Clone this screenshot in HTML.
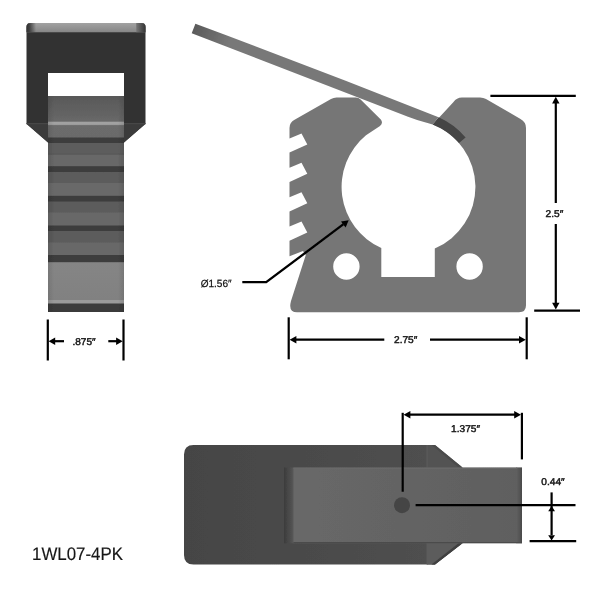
<!DOCTYPE html>
<html>
<head>
<meta charset="utf-8">
<title>1WL07-4PK</title>
<style>
html,body{margin:0;padding:0;background:#fff;}
body{width:600px;height:600px;overflow:hidden;font-family:"Liberation Sans",sans-serif;}
svg{display:block;}
text{text-rendering:geometricPrecision;font-family:"Liberation Sans",sans-serif;fill:#151515;stroke:#151515;stroke-width:0.25px;}
text.b{stroke-width:0.45px;}
</style>
</head>
<body>
<svg width="600" height="600" viewBox="0 0 600 600">
<defs>
  <linearGradient id="strapG" x1="0" y1="0" x2="1" y2="0">
    <stop offset="0" stop-color="#000" stop-opacity="0.10"/>
    <stop offset="0.08" stop-color="#000" stop-opacity="0"/>
    <stop offset="0.92" stop-color="#000" stop-opacity="0"/>
    <stop offset="1" stop-color="#000" stop-opacity="0.10"/>
  </linearGradient>
  <linearGradient id="recessG" x1="0" y1="0" x2="1" y2="0">
    <stop offset="0" stop-color="#3c3c3c"/>
    <stop offset="1" stop-color="#575757"/>
  </linearGradient>
  <linearGradient id="bodyG" x1="0" y1="0" x2="1" y2="0">
    <stop offset="0" stop-color="#454545"/>
    <stop offset="1" stop-color="#4f4f4f"/>
  </linearGradient>
  <linearGradient id="endG" x1="0" y1="0" x2="1" y2="0">
    <stop offset="0" stop-color="#616161"/>
    <stop offset="0.5" stop-color="#565656"/>
    <stop offset="1" stop-color="#4b4b4b"/>
  </linearGradient>
  <filter id="soft" x="0" y="0" width="600" height="600" filterUnits="userSpaceOnUse"><feGaussianBlur stdDeviation="0.55"/></filter>
  <linearGradient id="strap3G" x1="0" y1="0" x2="1" y2="0">
    <stop offset="0" stop-color="#686868"/>
    <stop offset="1" stop-color="#5f5f5f"/>
  </linearGradient>
  <linearGradient id="diagG" gradientUnits="userSpaceOnUse" x1="193" y1="28" x2="230" y2="42">
    <stop offset="0" stop-color="#5a5a5a"/>
    <stop offset="1" stop-color="#787878"/>
  </linearGradient>
  <linearGradient id="tieG" gradientUnits="userSpaceOnUse" x1="0" y1="96" x2="0" y2="312">
    <stop offset="0.00000" stop-color="#585858"/>
    <stop offset="0.11667" stop-color="#686868"/>
    <stop offset="0.12130" stop-color="#a2a2a2"/>
    <stop offset="0.13148" stop-color="#a0a0a0"/>
    <stop offset="0.13704" stop-color="#6c6c6c"/>
    <stop offset="0.18981" stop-color="#6b6b6b"/>
    <stop offset="0.19444" stop-color="#3c3c3c"/>
    <stop offset="0.21528" stop-color="#3c3c3c"/>
    <stop offset="0.21991" stop-color="#5d5d5d"/>
    <stop offset="0.26528" stop-color="#5d5d5d"/>
    <stop offset="0.26898" stop-color="#525252"/>
    <stop offset="0.27315" stop-color="#676767"/>
    <stop offset="0.32269" stop-color="#676767"/>
    <stop offset="0.32731" stop-color="#3c3c3c"/>
    <stop offset="0.34954" stop-color="#3c3c3c"/>
    <stop offset="0.35417" stop-color="#5b5b5b"/>
    <stop offset="0.40046" stop-color="#5b5b5b"/>
    <stop offset="0.40509" stop-color="#696969"/>
    <stop offset="0.45972" stop-color="#696969"/>
    <stop offset="0.46435" stop-color="#3c3c3c"/>
    <stop offset="0.48611" stop-color="#3c3c3c"/>
    <stop offset="0.49074" stop-color="#5b5b5b"/>
    <stop offset="0.53704" stop-color="#5b5b5b"/>
    <stop offset="0.54167" stop-color="#686868"/>
    <stop offset="0.59722" stop-color="#686868"/>
    <stop offset="0.60185" stop-color="#3c3c3c"/>
    <stop offset="0.62269" stop-color="#3c3c3c"/>
    <stop offset="0.62731" stop-color="#5b5b5b"/>
    <stop offset="0.67593" stop-color="#5b5b5b"/>
    <stop offset="0.68056" stop-color="#686868"/>
    <stop offset="0.73380" stop-color="#686868"/>
    <stop offset="0.73843" stop-color="#3c3c3c"/>
    <stop offset="0.76713" stop-color="#3c3c3c"/>
    <stop offset="0.77176" stop-color="#858585"/>
    <stop offset="0.94213" stop-color="#818181"/>
    <stop offset="0.94676" stop-color="#9a9a9a"/>
    <stop offset="0.95833" stop-color="#9a9a9a"/>
    <stop offset="0.96296" stop-color="#3b3b3b"/>
    <stop offset="1.00000" stop-color="#3b3b3b"/>
  </linearGradient>
  <linearGradient id="bandG" x1="0" y1="0" x2="0" y2="1">
    <stop offset="0" stop-color="#a2a2a2"/>
    <stop offset="1" stop-color="#868686"/>
  </linearGradient>
  <linearGradient id="cornL" x1="0" y1="0" x2="1" y2="0">
    <stop offset="0" stop-color="#333"/>
    <stop offset="0.25" stop-color="#3c3c3c"/>
    <stop offset="1" stop-color="#333" stop-opacity="0"/>
  </linearGradient>
  <linearGradient id="cornR" x1="1" y1="0" x2="0" y2="0">
    <stop offset="0" stop-color="#333"/>
    <stop offset="0.3" stop-color="#484848"/>
    <stop offset="1" stop-color="#777"/>
  </linearGradient>
  <clipPath id="strapClip"><rect x="48" y="96" width="76" height="216"/></clipPath>
</defs>
<rect width="600" height="600" fill="#fff"/>
<g filter="url(#soft)">

<!-- ============ VIEW 1 : front of strap/buckle ============ -->
<g id="view1">
  <!-- head -->
  <path d="M30.5,23 H141.5 Q145.5,23 145.5,27 V124 L124,142.5 H48 L26.5,124 V27 Q26.5,23 30.5,23 Z" fill="#333"/>
  <path d="M30.5,23 H141.5 Q145.5,23 145.5,27 V32.3 H26.5 V27 Q26.5,23 30.5,23 Z" fill="url(#bandG)"/>
  <path d="M26.5,27 Q26.5,23 30.5,23 H36 V32.3 H26.5Z" fill="url(#cornL)"/>
  <path d="M145.5,27 Q145.5,23 141.5,23 H136.2 V32.3 H145.5Z" fill="url(#cornR)"/>
  <path d="M26.5,123.6 H48 V142.5 Z" fill="#3b3b3b"/>
  <path d="M145.5,123.6 H124 V142.5 Z" fill="#3b3b3b"/>
  <rect x="26.5" y="123" width="21.5" height="1.2" fill="#474747"/>
  <rect x="124" y="123" width="21.5" height="1.2" fill="#474747"/>
  <!-- window -->
  <rect x="48" y="73" width="76" height="23" fill="#fff"/>
  <!-- strap -->
  <rect x="48" y="96" width="76" height="216" fill="url(#tieG)"/>
  <rect x="48" y="96" width="76" height="216" fill="url(#strapG)"/>
  <!-- dim -->
  <g stroke="#000" stroke-width="2.2" fill="none">
    <line x1="47.8" y1="319.5" x2="47.8" y2="360.5"/>
    <line x1="123.5" y1="319.5" x2="123.5" y2="360.5"/>
    <line x1="54" y1="341.2" x2="64" y2="341.2"/>
    <line x1="108.3" y1="341.2" x2="117" y2="341.2"/>
  </g>
  <path d="M48.6,341.2 L55.2,337.5 V344.9Z" fill="#000"/>
  <path d="M122.7,341.2 L116.1,337.5 V344.9Z" fill="#000"/>
  <text x="72.5" y="344.5" font-size="9.9" textLength="23.1" lengthAdjust="spacingAndGlyphs" class="b">.875&#8243;</text>
</g>

<!-- ============ VIEW 2 : clamp profile ============ -->
<g id="view2">
  <!-- clamp body -->
  <path fill="#767676" fill-rule="evenodd" d="
    M289.5,128
    Q289.5,122 295,119.5
    L331,99
    Q333.5,97.5 336.5,97.5
    H355.8
    Q358.6,97.5 360.6,99.5
    L380.8,119.5
    Q383.5,123 380,126
    L366,135.3
    A66.9,66.9 0 0 0 381.3,248.1
    V277 H434.8 V248.5
    A66.9,66.9 0 0 0 432.7,124.6
    L453.5,102
    Q456.5,97.5 462,97.5
    H480
    Q483.5,97.5 486,99
    L520.5,119
    Q526,122 526,128
    V305.3
    Q526,312.3 519,312.3
    H297
    Q288,312.3 291,301
    L305.8,255
    L303,251
    L289.5,256.3
    V240.8 L307.3,232.6 L301.5,221.6 L289.5,226.6
    V211.4 L307.3,203.2 L301.5,192.2 L289.5,197.2
    V182   L307.3,173.8 L301.5,162.8 L289.5,167.8
    V152.6 L307.3,144.4 L301.5,133.4 L289.5,138.4
    Z
    M359.6,266.5 a13.2,13.2 0 1 0 -26.4,0 a13.2,13.2 0 1 0 26.4,0 Z
    M482.8,266.5 a13.2,13.2 0 1 0 -26.4,0 a13.2,13.2 0 1 0 26.4,0 Z
  "/>
  <!-- dark strap section through jaw -->
  <path fill="#444" d="M438.6,117.2 A75.6,75.6 0 0 1 465.6,137.4 L459,143.1 A66.9,66.9 0 0 0 432.7,124.6 Z"/>
  <!-- diagonal strap -->
  <path d="M195.4,23.8 Q317,68.8 438.6,117.2 L432.7,124.6 A66.9,66.9 0 0 0 424,121.9 Q416.5,119.9 408,116.65 L191.7,33.2 Z" fill="url(#diagG)"/>

  <!-- dims -->
  <g stroke="#000" stroke-width="2.2" fill="none">
    <line x1="490.4" y1="95.8" x2="575.8" y2="95.8"/>
    <line x1="534.2" y1="310.6" x2="580" y2="310.6"/>
    <line x1="555.8" y1="102" x2="555.8" y2="203"/>
    <line x1="555.8" y1="224" x2="555.8" y2="304"/>
    <line x1="288.7" y1="317.3" x2="288.7" y2="359.3"/>
    <line x1="526.7" y1="317.3" x2="526.7" y2="359.3"/>
    <line x1="295" y1="339.7" x2="384.3" y2="339.7"/>
    <line x1="430" y1="339.7" x2="520" y2="339.7"/>
    <polyline points="242.3,282.2 266.2,282.2 343.5,224.2" stroke-width="2.3"/>
  </g>
  <path d="M555.8,96.8 L552.1,103.6 H559.5Z" fill="#000"/>
  <path d="M555.8,309.6 L552.1,302.8 H559.5Z" fill="#000"/>
  <path d="M289.6,339.7 L296.4,336 V343.4Z" fill="#000"/>
  <path d="M525.8,339.7 L519,336 V343.4Z" fill="#000"/>
  <path d="M348.7,220.2 L345.6,227.6 L341,221.5Z" fill="#000"/>
  <text x="545.6" y="216.6" font-size="9.9" textLength="17.7" lengthAdjust="spacingAndGlyphs" class="b">2.5&#8243;</text>
  <text x="394" y="342.9" font-size="9.9" textLength="23.3" lengthAdjust="spacingAndGlyphs" class="b">2.75&#8243;</text>
  <text x="200.7" y="286.6" font-size="10.4" textLength="30.9" lengthAdjust="spacingAndGlyphs">&#216;1.56&#8243;</text>
</g>

<!-- ============ VIEW 3 : side ============ -->
<g id="view3">
  <path d="M193.5,445 H427 V564.5 H193.5 Q184,564.5 184,555 V454.5 Q184,445 193.5,445Z" fill="url(#bodyG)"/>
  <path d="M427,445 H435 L462.5,467.6 V543.2 L435,564.5 H427Z" fill="#535353"/>
  <path d="M427,543 H462.5 L435,564.5 H427Z" fill="#5b5b5b"/>
  <path d="M435,564.5 L462.5,543.2 H458.6 L431.5,564.5Z" fill="#3f3f3f"/>
  <path d="M435,445 L462.5,467.6 H458.5 L431.5,445Z" fill="#4c4c4c"/>
  <rect x="426.6" y="445" width="1" height="119.5" fill="#5c5c5c"/>
  <rect x="284" y="467.4" width="9.5" height="76" fill="url(#recessG)"/>
  <rect x="293.3" y="467.6" width="228.7" height="75.6" fill="url(#strap3G)"/>
  <rect x="516" y="467.6" width="6" height="75.6" fill="url(#endG)"/>
  <rect x="293.3" y="542" width="228.7" height="1.2" fill="#4c4c4c"/>
  <rect x="293.3" y="467.6" width="224" height="1.2" fill="#6a6a6a"/>
  <circle cx="402" cy="505.2" r="8" fill="#444"/>
  <g stroke="#000" stroke-width="2.2" fill="none">
    <line x1="402.7" y1="412.8" x2="402.7" y2="491.7"/>
    <line x1="521.9" y1="412.8" x2="521.9" y2="459.4"/>
    <line x1="409" y1="414.7" x2="516" y2="414.7"/>
    <line x1="415.6" y1="505.2" x2="575.5" y2="505.2"/>
    <line x1="529.6" y1="541.2" x2="576.2" y2="541.2"/>
    <line x1="551.6" y1="492.4" x2="551.6" y2="535"/>
  </g>
  <path d="M403.6,414.7 L410.4,411 V418.4Z" fill="#000"/>
  <path d="M521,414.7 L514.2,411 V418.4Z" fill="#000"/>
  <path d="M551.6,506 L548.2,511.2 H555Z" fill="#000"/>
  <path d="M551.6,540.4 L548.2,535.2 H555Z" fill="#000"/>
  <text x="451.1" y="432.4" font-size="9.9" textLength="28.9" lengthAdjust="spacingAndGlyphs" class="b">1.375&#8243;</text>
  <text x="541.3" y="485" font-size="9.9" textLength="23.4" lengthAdjust="spacingAndGlyphs" class="b">0.44&#8243;</text>
</g>

<text x="32" y="560" style="stroke-width:0.15px" font-size="18.2" textLength="91" lengthAdjust="spacingAndGlyphs">1WL07-4PK</text>
</g>
</svg>
</body>
</html>
